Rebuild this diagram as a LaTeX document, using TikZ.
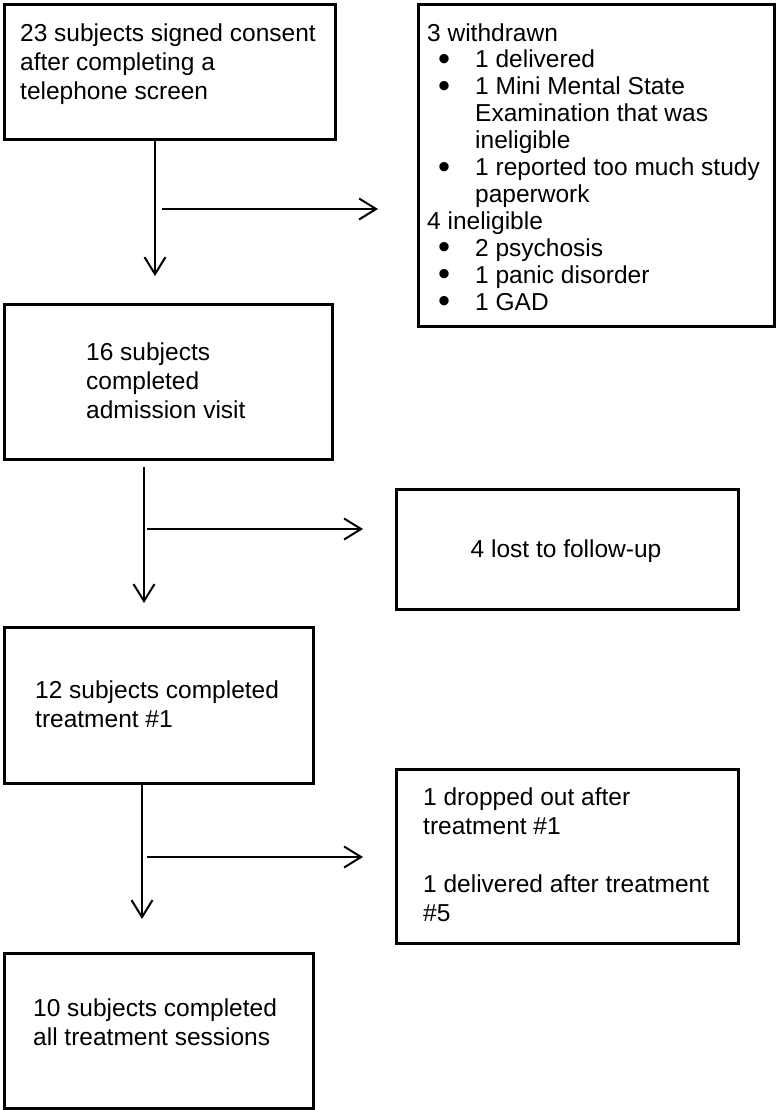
\documentclass[tikz,border=0pt]{standalone}
\usepackage{fontspec}
\usepackage{graphicx}
\setmainfont{Liberation Sans}
\usetikzlibrary{arrows.meta,calc}
\newcommand{\lbul}{\makebox[48pt][l]{\hspace{11pt}\smash{\raisebox{-2.5pt}{\scalebox{1.4}{•}}}}}
\newcommand{\lind}{\hspace*{48pt}}
\begin{document}
\begin{tikzpicture}[x=1pt,y=-1pt,
  box/.style={draw=black,line width=3pt,inner sep=0pt,anchor=north west},
  txt/.style={inner sep=0pt,align=left,anchor=base west,font=\fontsize{24.5}{29}\selectfont},
  arr/.style={draw=black,line width=2pt,-{Straight Barb[length=17pt,width=21pt,line width=2pt]}}]
\useasboundingbox[fill=white] (0,0) rectangle (776,1110);
% boxes
\node[box,minimum width=331pt,minimum height=135pt] (b1) at (3,3) {};
\node[box,minimum width=356pt,minimum height=322pt] (b2) at (417,3) {};
\node[box,minimum width=328pt,minimum height=155pt] (b3) at (3,303) {};
\node[box,minimum width=342pt,minimum height=120pt] (b4) at (395,488) {};
\node[box,minimum width=309pt,minimum height=156pt] (b5) at (3,626) {};
\node[box,minimum width=342pt,minimum height=174pt] (b6) at (395,768) {};
\node[box,minimum width=309pt,minimum height=155pt] (b7) at (3,952) {};
% texts (anchor = baseline of last line)
\node[txt] (t1) at (20,100) {23 subjects signed consent\\after completing a\\telephone screen};
\node[txt,font=\fontsize{24.5}{26.9}\selectfont] (t2) at (427,310) {3 withdrawn\\
\lbul 1 delivered\\
\lbul 1 Mini Mental State\\
\lind Examination that was\\
\lind ineligible\\
\lbul 1 reported too much study\\
\lind paperwork\\
4 ineligible\\
\lbul 2 psychosis\\
\lbul 1 panic disorder\\
\lbul 1 GAD};
\node[txt] (t3) at (86,418) {16 subjects\\completed\\admission visit};
\node[txt,anchor=base] (t4) at (566,557) {4 lost to follow-up};
\node[txt] (t5) at (35,727) {12 subjects completed\\treatment \#1};
\node[txt] (t6) at (423,921) {1 dropped out after\\treatment \#1\\[29pt]1 delivered after treatment\\\#5};
\node[txt] (t7) at (33,1045) {10 subjects completed\\all treatment sessions};
% connector ends
\coordinate (v1) at (155,276);
\coordinate (h1s) at (162,209);
\coordinate (h1e) at (378,209);
\coordinate (v2s) at (144,467);
\coordinate (v2) at (144,603);
\coordinate (h2s) at (147,529);
\coordinate (h2e) at (363,529);
\coordinate (v3) at (142,919);
\coordinate (h3s) at (147,857);
\coordinate (h3e) at (363,857);
% connectors
\draw[arr] (b1.south -| v1) -- (v1);
\draw[arr] (h1s) -- (h1e);
\draw[arr] (v2s) -- (v2);
\draw[arr] (h2s) -- (h2e);
\draw[arr] (b5.south -| v3) -- (v3);
\draw[arr] (h3s) -- (h3e);
\end{tikzpicture}
\end{document}
